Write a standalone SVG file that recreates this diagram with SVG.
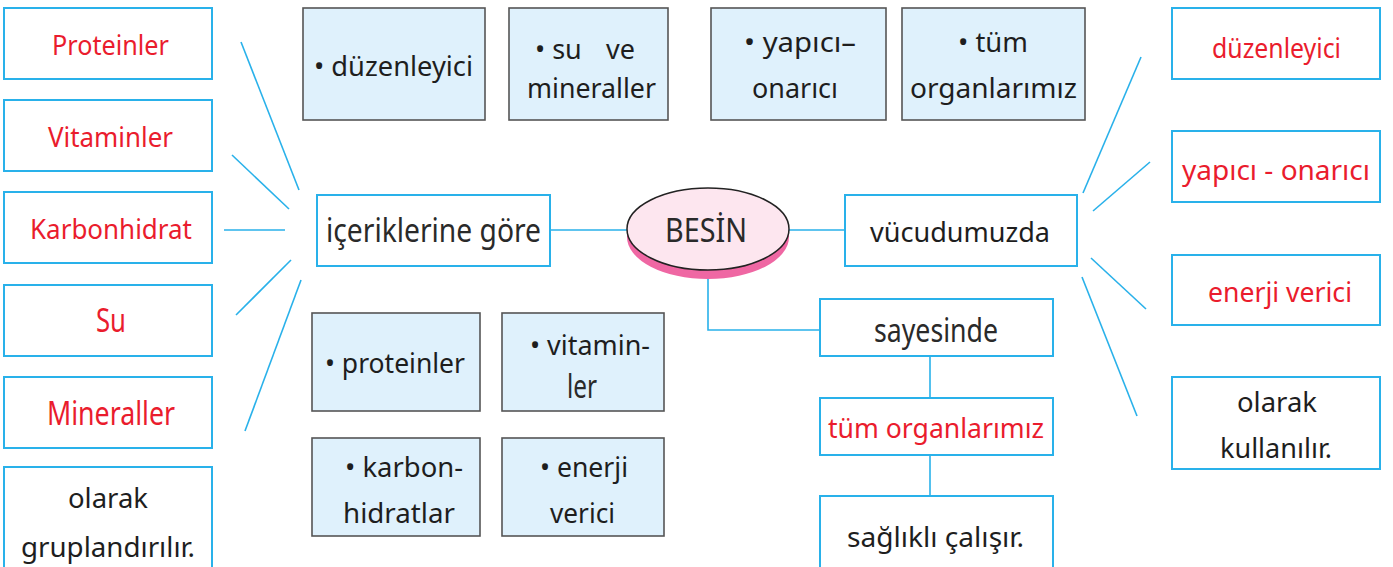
<svg xmlns="http://www.w3.org/2000/svg" width="1393" height="567" viewBox="0 0 1393 567">
<style>
.bb{fill:#fff;stroke:#29b1ea;stroke-width:2}
.gb{fill:#dff1fc;stroke:#555;stroke-width:1.6}
.ln{stroke:#29b1ea;stroke-width:1.6;fill:none}
text{font-family:"Noto Sans","Open Sans",sans-serif;}
.r{fill:#ea1c2d;font-size:28px}
.k{fill:#1e1e1e;font-size:27px}
.c{fill:#2a2a2a;font-size:33px}
.rc{fill:#ea1c2d;font-size:33px}
</style>
<rect width="1393" height="567" fill="#fff"/>
<g id="connectors">
<line class="ln" x1="241" y1="42" x2="299" y2="190"/>
<line class="ln" x1="232" y1="155" x2="289" y2="209"/>
<line class="ln" x1="224" y1="230" x2="285" y2="230"/>
<line class="ln" x1="236" y1="315" x2="291" y2="260"/>
<line class="ln" x1="245" y1="431" x2="301" y2="280"/>
<line class="ln" x1="550" y1="230" x2="630" y2="230"/>
<line class="ln" x1="788" y1="230" x2="845" y2="230"/>
<polyline class="ln" points="708,278 708,330 820,330"/>
<line class="ln" x1="930" y1="356" x2="930" y2="398"/>
<line class="ln" x1="930" y1="455" x2="930" y2="496"/>
<line class="ln" x1="1141" y1="57" x2="1083" y2="193"/>
<line class="ln" x1="1150" y1="162" x2="1093" y2="211"/>
<line class="ln" x1="1091" y1="258" x2="1146" y2="309"/>
<line class="ln" x1="1082" y1="277" x2="1137" y2="416"/>
</g>
<g id="n-proteinler"><rect class="bb" x="4" y="8" width="208" height="71"/><text class="r" x="52" y="55" textLength="117" lengthAdjust="spacingAndGlyphs">Proteinler</text></g>
<g id="n-vitaminler"><rect class="bb" x="4" y="100" width="208" height="71"/><text class="r" x="48" y="147" textLength="125" lengthAdjust="spacingAndGlyphs">Vitaminler</text></g>
<g id="n-karbonhidrat"><rect class="bb" x="4" y="192" width="208" height="71"/><text class="r" x="30" y="239" textLength="162" lengthAdjust="spacingAndGlyphs">Karbonhidrat</text></g>
<g id="n-su"><rect class="bb" x="4" y="285" width="208" height="71"/><text class="rc" x="96" y="332" textLength="30" lengthAdjust="spacingAndGlyphs">Su</text></g>
<g id="n-mineraller"><rect class="bb" x="4" y="377" width="208" height="71"/><text class="rc" x="47" y="425" textLength="128" lengthAdjust="spacingAndGlyphs">Mineraller</text></g>
<g id="n-gruplandirilir"><rect class="bb" x="4" y="467" width="208" height="110"/><text class="k" x="68" y="508" textLength="80" lengthAdjust="spacingAndGlyphs">olarak</text><text class="k" x="21" y="557" textLength="174" lengthAdjust="spacingAndGlyphs">gruplandırılır.</text></g>

<g id="n-icerik"><rect class="bb" x="317" y="195" width="233" height="71"/><text class="c" x="326" y="242" textLength="215" lengthAdjust="spacingAndGlyphs">içeriklerine göre</text></g>

<g id="n-t1"><rect class="gb" x="303" y="8" width="182" height="112"/><text class="k" x="314" y="76" textLength="159" lengthAdjust="spacingAndGlyphs">• düzenleyici</text></g>
<g id="n-t2"><rect class="gb" x="509" y="8" width="159" height="112"/><text class="k" y="59"><tspan x="535">• su</tspan><tspan x="606">ve</tspan></text><text class="k" x="527" y="98" textLength="129" lengthAdjust="spacingAndGlyphs">mineraller</text></g>
<g id="n-t3"><rect class="gb" x="711" y="8" width="175" height="112"/><text class="k" x="744" y="52" textLength="112" lengthAdjust="spacingAndGlyphs">• yapıcı–</text><text class="k" x="752" y="98" textLength="86" lengthAdjust="spacingAndGlyphs">onarıcı</text></g>
<g id="n-t4"><rect class="gb" x="902" y="8" width="183" height="112"/><text class="k" x="958" y="52" textLength="70" lengthAdjust="spacingAndGlyphs">• tüm</text><text class="k" x="910" y="98" textLength="167" lengthAdjust="spacingAndGlyphs">organlarımız</text></g>

<g id="n-b1"><rect class="gb" x="312" y="313" width="168" height="98"/><text class="k" x="325" y="373" textLength="140" lengthAdjust="spacingAndGlyphs">• proteinler</text></g>
<g id="n-b2"><rect class="gb" x="502" y="313" width="162" height="98"/><text class="k" x="530" y="355" textLength="120" lengthAdjust="spacingAndGlyphs">• vitamin-</text><text class="c" x="567" y="398" textLength="30" lengthAdjust="spacingAndGlyphs">ler</text></g>
<g id="n-b3"><rect class="gb" x="312" y="438" width="168" height="98"/><text class="k" x="345" y="477" textLength="118" lengthAdjust="spacingAndGlyphs">• karbon-</text><text class="k" x="343" y="523" textLength="112" lengthAdjust="spacingAndGlyphs">hidratlar</text></g>
<g id="n-b4"><rect class="gb" x="502" y="438" width="162" height="98"/><text class="k" x="540" y="477" textLength="88" lengthAdjust="spacingAndGlyphs">• enerji</text><text class="k" x="550" y="523" textLength="65" lengthAdjust="spacingAndGlyphs">verici</text></g>

<g id="n-besin">
<ellipse cx="708" cy="237" rx="81" ry="42" fill="#ef67a3"/>
<ellipse cx="708" cy="229" rx="81" ry="41" fill="#fde6ef" stroke="#222" stroke-width="1.5"/>
<text class="c" x="665" y="242" textLength="82" lengthAdjust="spacingAndGlyphs">BESİN</text>
</g>

<g id="n-vucut"><rect class="bb" x="845" y="195" width="232" height="71"/><text class="k" x="870" y="242" textLength="180" lengthAdjust="spacingAndGlyphs">vücudumuzda</text></g>
<g id="n-sayesinde"><rect class="bb" x="820" y="299" width="233" height="57"/><text class="c" x="874" y="342" textLength="124" lengthAdjust="spacingAndGlyphs">sayesinde</text></g>
<g id="n-organ"><rect class="bb" x="820" y="398" width="233" height="57"/><text class="r" x="828" y="438" textLength="216" lengthAdjust="spacingAndGlyphs">tüm organlarımız</text></g>
<g id="n-saglikli"><rect class="bb" x="820" y="496" width="233" height="80"/><text class="k" x="847" y="547" textLength="177" lengthAdjust="spacingAndGlyphs">sağlıklı çalışır.</text></g>

<g id="n-r1"><rect class="bb" x="1172" y="8" width="208" height="71"/><text class="r" x="1212" y="58" textLength="129" lengthAdjust="spacingAndGlyphs">düzenleyici</text></g>
<g id="n-r2"><rect class="bb" x="1172" y="131" width="208" height="71"/><text class="r" x="1182" y="180" textLength="188" lengthAdjust="spacingAndGlyphs">yapıcı - onarıcı</text></g>
<g id="n-r3"><rect class="bb" x="1172" y="255" width="208" height="70"/><text class="r" x="1208" y="302" textLength="144" lengthAdjust="spacingAndGlyphs">enerji verici</text></g>
<g id="n-r4"><rect class="bb" x="1172" y="377" width="208" height="92"/><text class="k" x="1237" y="412" textLength="80" lengthAdjust="spacingAndGlyphs">olarak</text><text class="k" x="1220" y="458" textLength="112" lengthAdjust="spacingAndGlyphs">kullanılır.</text></g>
</svg>
